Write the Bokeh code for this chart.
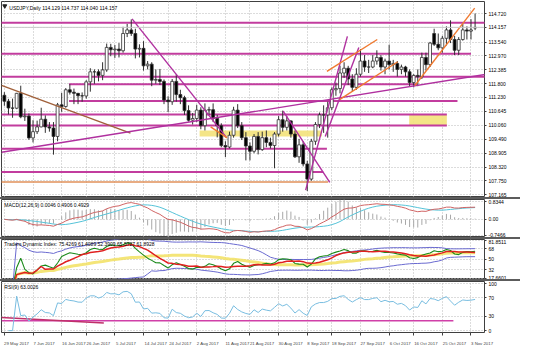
import pandas as pd
from bokeh.plotting import figure
from bokeh.layouts import column
from bokeh.models import Range1d, FixedTicker, Label, Span, ColumnDataSource, Spacer
from bokeh.embed import file_html
from bokeh.resources import INLINE

# ---------------- data (USDJPY daily) ----------------
opens = [111.32, 111.07, 110.79, 110.78, 111.40, 110.42, 110.45, 109.54, 109.80, 110.00,
         110.32, 110.00, 109.95, 109.60, 110.92, 110.85, 111.55, 111.45, 111.40, 111.30,
         111.29, 111.88, 112.30, 112.30, 112.15, 112.38, 113.32, 113.22, 113.25, 113.18,
         113.90, 114.05, 113.90, 113.25, 113.28, 112.55, 112.62, 111.95, 111.98, 111.90,
         111.12, 111.05, 111.90, 111.35, 111.22, 110.68, 110.28, 110.35, 110.70, 110.05,
         110.70, 110.72, 110.35, 110.05, 109.22, 109.16, 109.65, 110.70, 110.05, 109.55,
         109.20, 108.98, 109.60, 109.05, 109.55, 109.35, 109.22, 109.70, 110.30, 109.98,
         110.25, 109.70, 108.75, 109.25, 108.45, 107.82, 109.40, 110.10, 110.50, 110.50,
         110.80, 111.55, 111.60, 112.25, 112.45, 112.00, 111.65, 112.20, 112.75, 112.50,
         112.50, 112.75, 112.90, 112.50, 112.75, 112.60, 112.65, 112.40, 112.50, 112.30,
         111.85, 112.15, 112.10, 112.90, 112.60, 113.90, 113.45, 113.30, 113.70, 114.05,
         113.65, 113.20, 113.65, 114.05, 114.00, 114.129]
highs = [111.45, 111.17, 111.18, 111.42, 111.72, 110.76, 110.56, 110.28, 110.26, 110.80,
         110.48, 110.20, 110.20, 111.00, 111.42, 111.62, 111.78, 111.60, 111.42, 111.44,
         111.95, 112.45, 112.40, 112.40, 112.70, 113.48, 113.47, 113.42, 113.50, 114.18,
         114.30, 114.49, 114.10, 113.45, 113.58, 112.75, 112.70, 112.40, 112.42, 111.98,
         111.28, 112.00, 112.20, 111.55, 111.30, 110.90, 110.58, 110.92, 110.82, 110.98,
         110.84, 110.98, 110.50, 110.15, 109.40, 109.80, 110.84, 110.95, 110.20, 109.78,
         109.35, 109.70, 109.78, 109.80, 109.85, 109.55, 109.78, 110.45, 110.68, 110.45,
         110.28, 109.85, 109.50, 109.40, 108.58, 109.50, 110.20, 110.60, 110.90, 111.05,
         111.65, 111.85, 112.55, 112.70, 112.55, 112.20, 112.45, 113.25, 113.00, 112.80,
         113.00, 113.20, 113.00, 112.85, 113.43, 112.80, 112.75, 112.60, 112.55, 112.40,
         112.20, 112.40, 113.10, 113.10, 113.55, 114.10, 113.90, 113.80, 114.20, 114.45,
         113.80, 113.75, 114.30, 114.20, 114.50, 114.737]
lows = [110.88, 110.52, 110.38, 110.74, 110.36, 110.25, 109.46, 109.35, 109.70, 109.98,
        109.75, 109.80, 108.84, 109.40, 110.63, 110.80, 111.35, 110.95, 110.95, 111.05,
        111.18, 111.47, 111.80, 111.90, 111.95, 112.30, 112.95, 112.88, 112.90, 113.10,
        113.75, 113.80, 112.86, 112.90, 112.35, 112.40, 111.70, 111.80, 111.75, 110.95,
        110.62, 110.92, 111.05, 110.95, 110.50, 110.22, 110.10, 110.20, 109.90, 109.85,
        110.50, 110.20, 109.56, 109.15, 108.74, 109.10, 109.55, 109.95, 109.45, 108.60,
        108.60, 108.90, 108.85, 109.00, 109.15, 109.10, 108.27, 109.60, 109.80, 109.85,
        109.55, 108.70, 108.50, 108.35, 107.32, 107.75, 109.25, 109.95, 109.75, 109.55,
        110.70, 111.30, 111.40, 112.05, 111.75, 111.47, 111.55, 112.10, 112.30, 112.25,
        112.45, 112.60, 112.35, 112.20, 112.40, 112.30, 112.10, 112.20, 112.10, 111.70,
        111.65, 111.70, 112.00, 112.35, 112.50, 113.38, 113.20, 113.10, 113.40, 113.50,
        113.00, 113.00, 113.60, 113.65, 113.65, 114.040]
closes = [111.07, 110.79, 110.78, 111.40, 110.42, 110.45, 109.54, 109.80, 110.00, 110.32,
          110.00, 109.95, 109.60, 110.92, 110.85, 111.55, 111.45, 111.40, 111.30, 111.29,
          111.88, 112.30, 112.30, 112.15, 112.38, 113.32, 113.22, 113.25, 113.18, 113.90,
          114.05, 113.90, 113.25, 113.28, 112.55, 112.62, 111.95, 111.98, 111.90, 111.12,
          111.05, 111.90, 111.35, 111.22, 110.68, 110.28, 110.35, 110.70, 110.05, 110.70,
          110.72, 110.35, 110.05, 109.22, 109.16, 109.65, 110.70, 110.05, 109.55, 109.20,
          108.98, 109.60, 109.05, 109.55, 109.35, 109.22, 109.70, 110.30, 109.98, 110.25,
          109.70, 108.75, 109.25, 108.45, 107.82, 109.40, 110.10, 110.50, 110.50, 110.80,
          111.55, 111.60, 112.25, 112.45, 112.00, 111.65, 112.20, 112.75, 112.50, 112.50,
          112.75, 112.90, 112.50, 112.75, 112.60, 112.65, 112.40, 112.50, 112.30, 111.85,
          112.15, 112.10, 112.90, 112.60, 113.50, 113.45, 113.30, 113.70, 114.05, 113.65,
          113.20, 113.65, 114.05, 114.00, 114.05, 114.157]

date_labels = ["29 May 2017", "7 Jun 2017", "16 Jun 2017", "26 Jun 2017", "5 Jul 2017",
               "14 Jul 2017", "24 Jul 2017", "2 Aug 2017", "11 Aug 2017", "21 Aug 2017",
               "30 Aug 2017", "8 Sep 2017", "18 Sep 2017", "27 Sep 2017", "6 Oct 2017",
               "16 Oct 2017", "25 Oct 2017", "3 Nov 2017"]
date_bars = [0, 7, 14, 20, 27, 34, 40, 47, 54, 60, 67, 74, 80, 87, 94, 100, 107, 114]

price_ticks = [114.720, 114.157, 113.540, 112.970, 112.385, 111.800, 111.230, 110.645,
               110.060, 109.490, 108.905, 108.320, 107.750, 107.165]
price_tick_labels = ["114.720", "114.157", "113.540", "112.970", "112.385", "111.800", "111.230",
                     "110.645", "110.060", "109.490", "108.905", "108.320", "107.750", "107.165"]
bid_price = 114.157
main_title = "USDJPY,Daily  114.129 114.737 114.040 114.157"

# horizontal levels drawn on the chart (price, from bar, to bar)
level_price = [114.35, 113.05, 112.09, 111.78, 111.08, 110.52, 110.06, 109.09, 108.11]
level_from = [-1, -1, -1, 15.8, 15.8, -1, -1, -1, -1]
level_to = [119, 114.0, 119, 100.8, 110.7, 108.1, 108.1, 78.8, 77.9]
orange_level = [107.70, -1, 79.1]

# shaded zones (bottom, top, from bar, to bar)
zone_bottom = [109.60, 110.06]
zone_top = [109.85, 110.52]
zone_from = [47.7, 98.9]
zone_to = [77.6, 108.1]

# trend lines (bar0, price0, bar1, price1, kind)
trend_x0 = [-0.7, -0.7, 31.2, 68.1, 73.6, 78.4, 78.8, 81.9, 100.3, 50.4]
trend_y0 = [111.73, 108.94, 114.51, 110.66, 107.36, 109.60, 112.32, 111.14, 111.73, 110.00]
trend_x1 = [30.8, 117.5, 54.3, 79.5, 83.8, 86.6, 91.1, 96.1, 114.9, 54.4]
trend_y1 = [109.74, 112.19, 109.55, 107.68, 113.78, 113.32, 113.65, 112.72, 114.96, 109.54]
trend_kind = ["brown", "purple", "purple", "purple", "purple", "purple", "orange", "orange", "orange", "orange"]

macd_title = "MACD(12,26,9) 0.0046 0.4906 0.4929"
macd_ticks = [0.8344, 0.0, -0.7466]
macd_tick_labels = ["0.8344", "0.00", "-0.7466"]
tdi_title = "Traders Dynamic Index: 75.4269 61.4089 52.3909 65.5727 61.8928"
tdi_ticks = [81.8511, 68, 50, 32, 17.6601]
tdi_tick_labels = ["81.8511", "68", "50", "32", "17.6601"]
rsi_title = "RSI(9) 63.0026"
rsi_ticks = [100, 70, 30, 0]
rsi_tick_labels = ["100", "70", "30", "0"]
rsi_line_x0 = [-0.7, -0.7]
rsi_line_y0 = [21.0, 28.0]
rsi_line_x1 = [109.7, 24.3]
rsi_line_y1 = [21.0, 16.0]

# ---------------- indicators from the closes ----------------
c = pd.Series(closes)
ema12 = c.ewm(span=12, adjust=False).mean()
ema26 = c.ewm(span=26, adjust=False).mean()
macd = ema12 - ema26
signal = macd.rolling(9, min_periods=1).mean()
hist = 2 * (macd - signal)


def rsi(series, n):
    d = series.diff().fillna(0)
    up = d.clip(lower=0).ewm(alpha=1.0 / n, adjust=False).mean()
    dn = (-d.clip(upper=0)).ewm(alpha=1.0 / n, adjust=False).mean()
    return 100 - 100 / (1 + up / dn)


r13 = rsi(c, 13)
tdi_green = r13.rolling(2, min_periods=1).mean()
tdi_red = r13.rolling(7, min_periods=1).mean()
tdi_base = r13.rolling(34, min_periods=1).mean()
tdi_sd = r13.rolling(34, min_periods=2).std(ddof=0)
tdi_up = tdi_base + 1.6185 * tdi_sd
tdi_dn = tdi_base - 1.6185 * tdi_sd
r9 = rsi(c, 9)

idx = list(range(len(closes)))

# ---------------- styling helpers ----------------
FONT = "Liberation Sans"
FS = "5px"
DFS = "4.3px"
XR = Range1d(-0.7, 117.3)
GRID = "#b8b8b8"
LEVEL = "#c23c9e"
PURPLE = "#b0309f"
ORANGE = "#f07a30"
BROWN = "#a0603a"
kind_color = {"brown": BROWN, "purple": PURPLE, "orange": ORANGE}


def make_fig(fh, yr, ticks, labels, xaxis=False):
    f = figure(frame_width=483, frame_height=fh, x_range=XR, y_range=yr,
               y_axis_location="right", x_axis_location="below" if xaxis else None,
               toolbar_location=None, output_backend="svg", title=None,
               min_border_left=1, min_border_right=36, min_border_top=0,
               min_border_bottom=11 if xaxis else 0)
    f.outline_line_color = "#404040"
    f.outline_line_width = 1
    ya = f.yaxis[0]
    ya.ticker = FixedTicker(ticks=ticks)
    ya.major_label_overrides = {tv: tl for tv, tl in zip(ticks, labels)}
    ya.major_label_text_font = FONT
    ya.major_label_text_font_size = FS
    ya.major_label_text_color = "black"
    ya.major_tick_out = 2
    ya.major_tick_in = 0
    ya.minor_tick_line_color = None
    ya.axis_line_color = None
    ya.major_label_standoff = 2
    ya.major_tick_line_color = "#404040"
    f.ygrid.grid_line_color = GRID
    f.ygrid.grid_line_dash = "1 2"
    f.xgrid.ticker = FixedTicker(ticks=date_bars)
    f.xgrid.grid_line_color = GRID
    f.xgrid.grid_line_dash = "1 2"
    return f


# ---------------- main price window ----------------
p = make_fig(196, Range1d(107.05, 115.237), price_ticks, price_tick_labels)
p.min_border_top = 1

p.add_layout(Span(location=bid_price, dimension="width", line_color="#c8c8c8", line_width=1))

for b, t, x0, x1 in zip(zone_bottom, zone_top, zone_from, zone_to):
    p.quad(left=x0, right=x1, bottom=b, top=t, fill_color="#f3e27a", fill_alpha=0.9, line_color=None)

p.segment(x0=level_from, y0=level_price, x1=level_to, y1=level_price, line_color=LEVEL, line_width=2)
p.segment(x0=[orange_level[1]], y0=[orange_level[0]], x1=[orange_level[2]], y1=[orange_level[0]],
          line_color="#e0905a", line_width=1.5)

src = ColumnDataSource(dict(x=idx, o=opens, h=highs, l=lows, c=closes))
p.segment(x0="x", y0="l", x1="x", y1="h", source=src, line_color="#303030", line_width=1)
up_src = ColumnDataSource(dict(x=[i for i in idx if closes[i] >= opens[i]],
                               top=[closes[i] for i in idx if closes[i] >= opens[i]],
                               bot=[opens[i] for i in idx if closes[i] >= opens[i]]))
dn_src = ColumnDataSource(dict(x=[i for i in idx if closes[i] < opens[i]],
                               top=[opens[i] for i in idx if closes[i] < opens[i]],
                               bot=[closes[i] for i in idx if closes[i] < opens[i]]))
p.vbar(x="x", top="top", bottom="bot", width=0.7, source=up_src, fill_color="white", line_color="#303030", line_width=0.8)
p.vbar(x="x", top="top", bottom="bot", width=0.7, source=dn_src, fill_color="black", line_color="#303030", line_width=0.8)

p.segment(x0=trend_x0, y0=trend_y0, x1=trend_x1, y1=trend_y1,
          line_color=[kind_color[k] for k in trend_kind], line_width=1.4)

p.add_layout(Label(x=1.2, y=115.237, text=main_title, text_font=FONT, text_font_size=FS,
                   text_baseline="top", y_offset=-3, text_color="black"))
p.scatter(x=[0.1], y=[115.05], marker="triangle", size=4, color="#202020", angle=3.1416)

# ---------------- MACD window ----------------
m = make_fig(38, Range1d(-0.86, 0.94), macd_ticks, macd_tick_labels)
m.segment(x0=idx, y0=[0] * len(idx), x1=idx, y1=list(hist), line_color="#a8a8a8", line_width=1)
m.line(idx, list(signal), line_color="#55c3d8", line_width=1)
m.line(idx, list(macd), line_color="#d06464", line_width=1)
m.add_layout(Label(x=0, y=0.94, text=macd_title, text_font=FONT, text_font_size=FS,
                   text_baseline="top", y_offset=-2, text_color="black"))

# ---------------- TDI window ----------------
t = make_fig(40, Range1d(15.5, 84.0), tdi_ticks, tdi_tick_labels)
t.line(idx, list(tdi_base), line_color="#f2e060", line_width=3, line_alpha=0.85)
t.line(idx, list(tdi_up), line_color="#6a6ad0", line_width=1)
t.line(idx, list(tdi_dn), line_color="#6a6ad0", line_width=1)
t.line(idx, list(tdi_green), line_color="#1a8a1a", line_width=1.1)
t.line(idx, list(tdi_red), line_color="#e02020", line_width=1.5)
t.add_layout(Label(x=0, y=84.0, text=tdi_title, text_font=FONT, text_font_size=FS,
                   text_baseline="top", y_offset=-1, text_color="black"))

# ---------------- RSI window ----------------
r = make_fig(51, Range1d(-4, 104), rsi_ticks, rsi_tick_labels, xaxis=True)
r.segment(x0=rsi_line_x0, y0=rsi_line_y0, x1=rsi_line_x1, y1=rsi_line_y1,
          line_color=["#d040a8", "#c0306a"], line_width=1.5)
r.line(idx, list(r9), line_color="#78bde0", line_width=1)
r.add_layout(Label(x=0, y=104, text=rsi_title, text_font=FONT, text_font_size=FS,
                   text_baseline="top", y_offset=-2, text_color="black"))

xa = r.xaxis[0]
centers = [round(b + len(s) * 0.27, 2) for b, s in zip(date_bars, date_labels)]
xa.ticker = FixedTicker(ticks=centers, minor_ticks=date_bars)
xa.major_label_overrides = {cv: s for cv, s in zip(centers, date_labels)}
xa.major_tick_line_color = None
xa.minor_tick_out = 3
xa.minor_tick_in = 0
xa.minor_tick_line_color = "#404040"
xa.axis_line_color = None
xa.major_label_text_font = FONT
xa.major_label_text_font_size = DFS
xa.major_label_standoff = 2


def sep():
    return Spacer(width=520, height=2, styles={"background-color": "#5c5c5c"})


layout = column(p, sep(), m, sep(), t, sep(), r, spacing=0)

open("out.html", "w").write(file_html(layout, INLINE))
